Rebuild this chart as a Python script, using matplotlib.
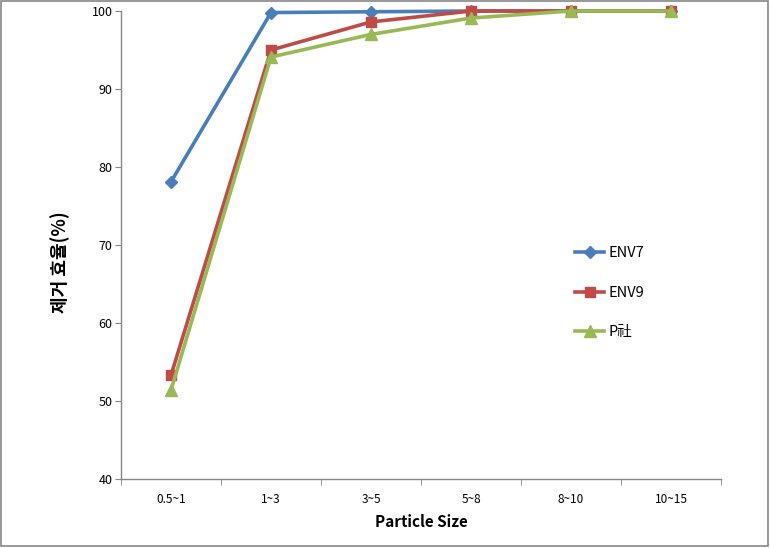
import matplotlib
matplotlib.use("Agg")
import matplotlib.pyplot as plt
from matplotlib.patches import Rectangle

plt.rcParams['font.family'] = ['Noto Sans CJK KR', 'DejaVu Sans']

categories = ["0.5~1", "1~3", "3~5", "5~8", "8~10", "10~15"]
env7 = [78.1, 99.8, 99.9, 100, 100, 100]
env9 = [53.3, 95.0, 98.6, 100, 100, 100]
p_co = [51.4, 94.1, 97.0, 99.1, 100, 100]
series_names = ["ENV7", "ENV9", "P社"]
yticks = [40, 50, 60, 70, 80, 90, 100]

fig = plt.figure(figsize=(7.7, 5.48), dpi=100)
ax = fig.add_axes([121/770, 1-479/548, 600/770, 468/548])

x = list(range(len(categories)))
colors = ["#4a7ebb", "#be4b48", "#98b954"]
markers = ["D", "s", "^"]
msizes = [6, 7, 8]
lines = []
for vals, c, m, ms, name, z in zip([env7, env9, p_co], colors, markers, msizes, series_names, [2, 3, 4]):
    ln, = ax.plot(x, vals, color=c, marker=m, markersize=ms, linewidth=2.6,
                  label=name, zorder=z, clip_on=False)
    lines.append(ln)

ax.set_xlim(-0.5, len(categories) - 0.5)
ax.set_ylim(40, 100)
ax.set_yticks(yticks)
ax.set_yticklabels([str(v) for v in yticks], fontsize=9)
ax.set_xticks(x)
ax.set_xticklabels(categories, fontsize=8.5)
ax.tick_params(axis='x', which='major', length=0, pad=10)
ax.set_xticks([i - 0.5 for i in range(len(categories) + 1)], minor=True)
ax.tick_params(axis='x', which='minor', length=4, color='#868686', direction='out')
ax.tick_params(axis='y', length=4, color='#868686', direction='out', pad=2)

for s in ['top', 'right']:
    ax.spines[s].set_visible(False)
for s in ['left', 'bottom']:
    ax.spines[s].set_color('#868686')
    ax.spines[s].set_linewidth(1)

ax.set_xlabel("Particle Size", fontsize=11, fontweight='bold', labelpad=6)
fig.text(60/770, 1-262/548, "제거 효율(%)", fontsize=13, fontweight='bold',
         rotation=90, ha='center', va='center')

leg = ax.legend(handles=lines, loc='upper left', bbox_to_anchor=(0.735, 0.525),
                frameon=False, fontsize=10.5, labelspacing=1.75, handlelength=2.0,
                handletextpad=0.3)

fig.patches.append(Rectangle((0.0015, 0.003), 0.996, 0.995, transform=fig.transFigure,
                             fill=False, edgecolor='#868686', linewidth=1.2))

fig.savefig("out.png", dpi=100)
